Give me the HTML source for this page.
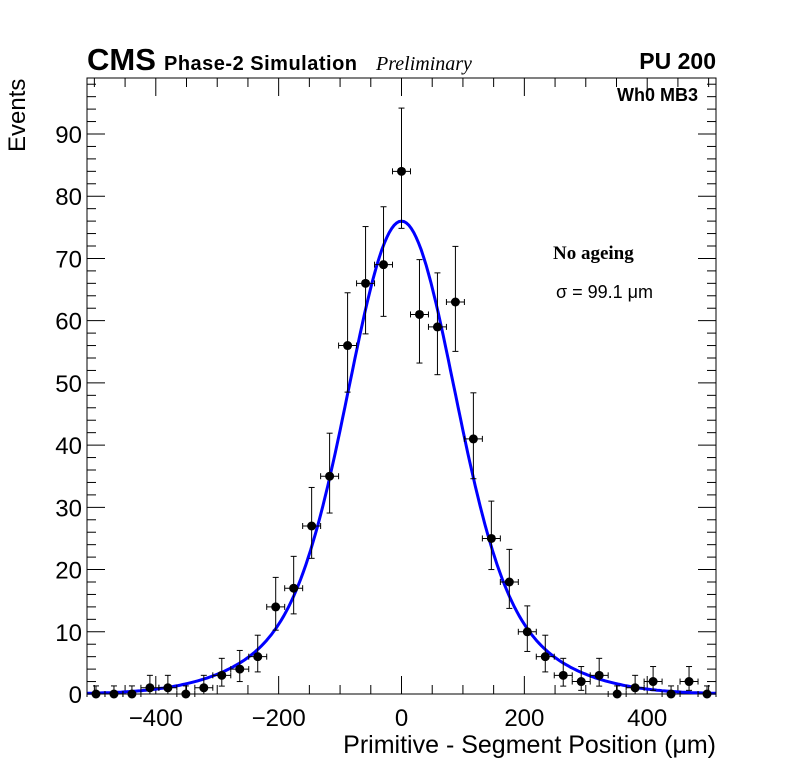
<!DOCTYPE html>
<html><head><meta charset="utf-8"><style>
body{margin:0;background:#fff;}
svg text{font-family:"Liberation Sans",sans-serif;}
</style></head><body>
<svg id="c" width="796" height="772" xmlns="http://www.w3.org/2000/svg">
<rect width="796" height="772" fill="#fff"/>
<g id="axes"></g>
<g id="fit"></g>
<g id="pts"></g>
<text x="87" y="70" font-size="31" font-weight="bold">CMS</text>
<text x="164" y="70" font-size="20" font-weight="bold" textLength="193">Phase-2 Simulation</text>
<text x="376" y="70" font-size="20" font-style="italic" style="font-family:'Liberation Serif',serif">Preliminary</text>
<text x="716" y="69" font-size="23" font-weight="bold" text-anchor="end">PU 200</text>
<text x="698" y="101" font-size="18" font-weight="bold" text-anchor="end">Wh0 MB3</text>
<text x="553" y="259" font-size="19" font-weight="bold" style="font-family:'Liberation Serif',serif">No ageing</text>
<text x="556" y="298" font-size="18">σ = 99.1 μm</text>
<text transform="translate(25,152) rotate(-90)" font-size="24">Events</text>
<text x="716" y="753" font-size="25" text-anchor="end">Primitive - Segment Position (μm)</text>
</svg>
<script>
const counts=[0,0,0,1,1,0,1,3,4,6,14,17,27,35,56,66,69,84,61,59,63,41,25,18,10,6,3,2,3,0,1,2,0,2,0];
const fitAmps=[58,18], fitMeans=[0,0], fitSigmas=[82,160];
const xTicks=[-400,-200,0,200,400];
const yTicks=[0,10,20,30,40,50,60,70,80,90];
const xMin=-512,xMax=512,yMin=0,yMax=99;
const L=87,R=716,T=78,B=694;
const NS='http://www.w3.org/2000/svg';
const sx=v=>L+(v-xMin)/(xMax-xMin)*(R-L);
const sy=v=>B-(v-yMin)/(yMax-yMin)*(B-T);
function mk(tag,at,par){const e=document.createElementNS(NS,tag);for(const k in at)e.setAttribute(k,at[k]);par.appendChild(e);return e;}
const ax=document.getElementById('axes');
const frame=mk('rect',{x:L,y:T,width:R-L,height:B-T,fill:'none',stroke:'#000','stroke-width':1},ax);


for(let v=-500;v<=500;v+=50){
  const major=v%200===0, h=major?18:9;
  const x=sx(v);
  const t=mk('line',{x1:x,x2:x,y1:B,y2:B-h,stroke:'#000'},ax);
  
  
  mk('line',{x1:x,x2:x,y1:T,y2:T+h,stroke:'#000'},ax);
}
for(let v=0;v<=98;v+=2){
  const major=v%10===0, w=major?18:9;
  const y=sy(v);
  const t=mk('line',{x1:L,x2:L+w,y1:y,y2:y,stroke:'#000'},ax);
  
  
  mk('line',{x1:R,x2:R-w,y1:y,y2:y,stroke:'#000'},ax);
}
xTicks.forEach(v=>{const t=mk('text',{x:sx(v),y:B+32,'font-size':24,'text-anchor':'middle'},ax);t.textContent=(v<0?'\u2212'+(-v):v);

});
yTicks.forEach(v=>{const t=mk('text',{x:L-5,y:sy(v)+9,'font-size':24,'text-anchor':'end'},ax);t.textContent=v;

});
// fit
let d='';
for(let v=xMin;v<=xMax;v+=4){let f=0;for(let k=0;k<fitAmps.length;k++)f+=fitAmps[k]*Math.exp(-0.5*((v-fitMeans[k])/fitSigmas[k])**2);d+=(d?'L':'M')+sx(v).toFixed(1)+','+sy(f).toFixed(1);}
const fp=mk('path',{d:d,fill:'none',stroke:'#0000ff','stroke-width':3},document.getElementById('fit'));


// points
const pg=document.getElementById('pts');
const bw=(xMax-xMin)/counts.length;
counts.forEach((n,i)=>{
  const c=xMin+bw*(i+0.5), x=sx(c), y=sy(n);
  const lo=Math.sqrt(n), up=n===0?1.3:Math.sqrt(n)+1;
  const g=mk('g',{},pg);
  
  
  mk('line',{x1:sx(c-bw/2),x2:sx(c+bw/2),y1:y,y2:y,stroke:'#000'},g);
  mk('line',{x1:x,x2:x,y1:sy(Math.max(0,n-lo)),y2:sy(n+up),stroke:'#000'},g);
  mk('line',{x1:x-3,x2:x+3,y1:sy(n+up),y2:sy(n+up),stroke:'#000'},g);
  if(n>0)mk('line',{x1:x-3,x2:x+3,y1:sy(n-lo),y2:sy(n-lo),stroke:'#000'},g);
  mk('line',{x1:sx(c-bw/2),x2:sx(c-bw/2),y1:y-3,y2:y+3,stroke:'#000'},g);
  mk('line',{x1:sx(c+bw/2),x2:sx(c+bw/2),y1:y-3,y2:y+3,stroke:'#000'},g);
  mk('circle',{cx:x,cy:y,r:4.5,fill:'#000'},g);
});
</script>
</body></html>
